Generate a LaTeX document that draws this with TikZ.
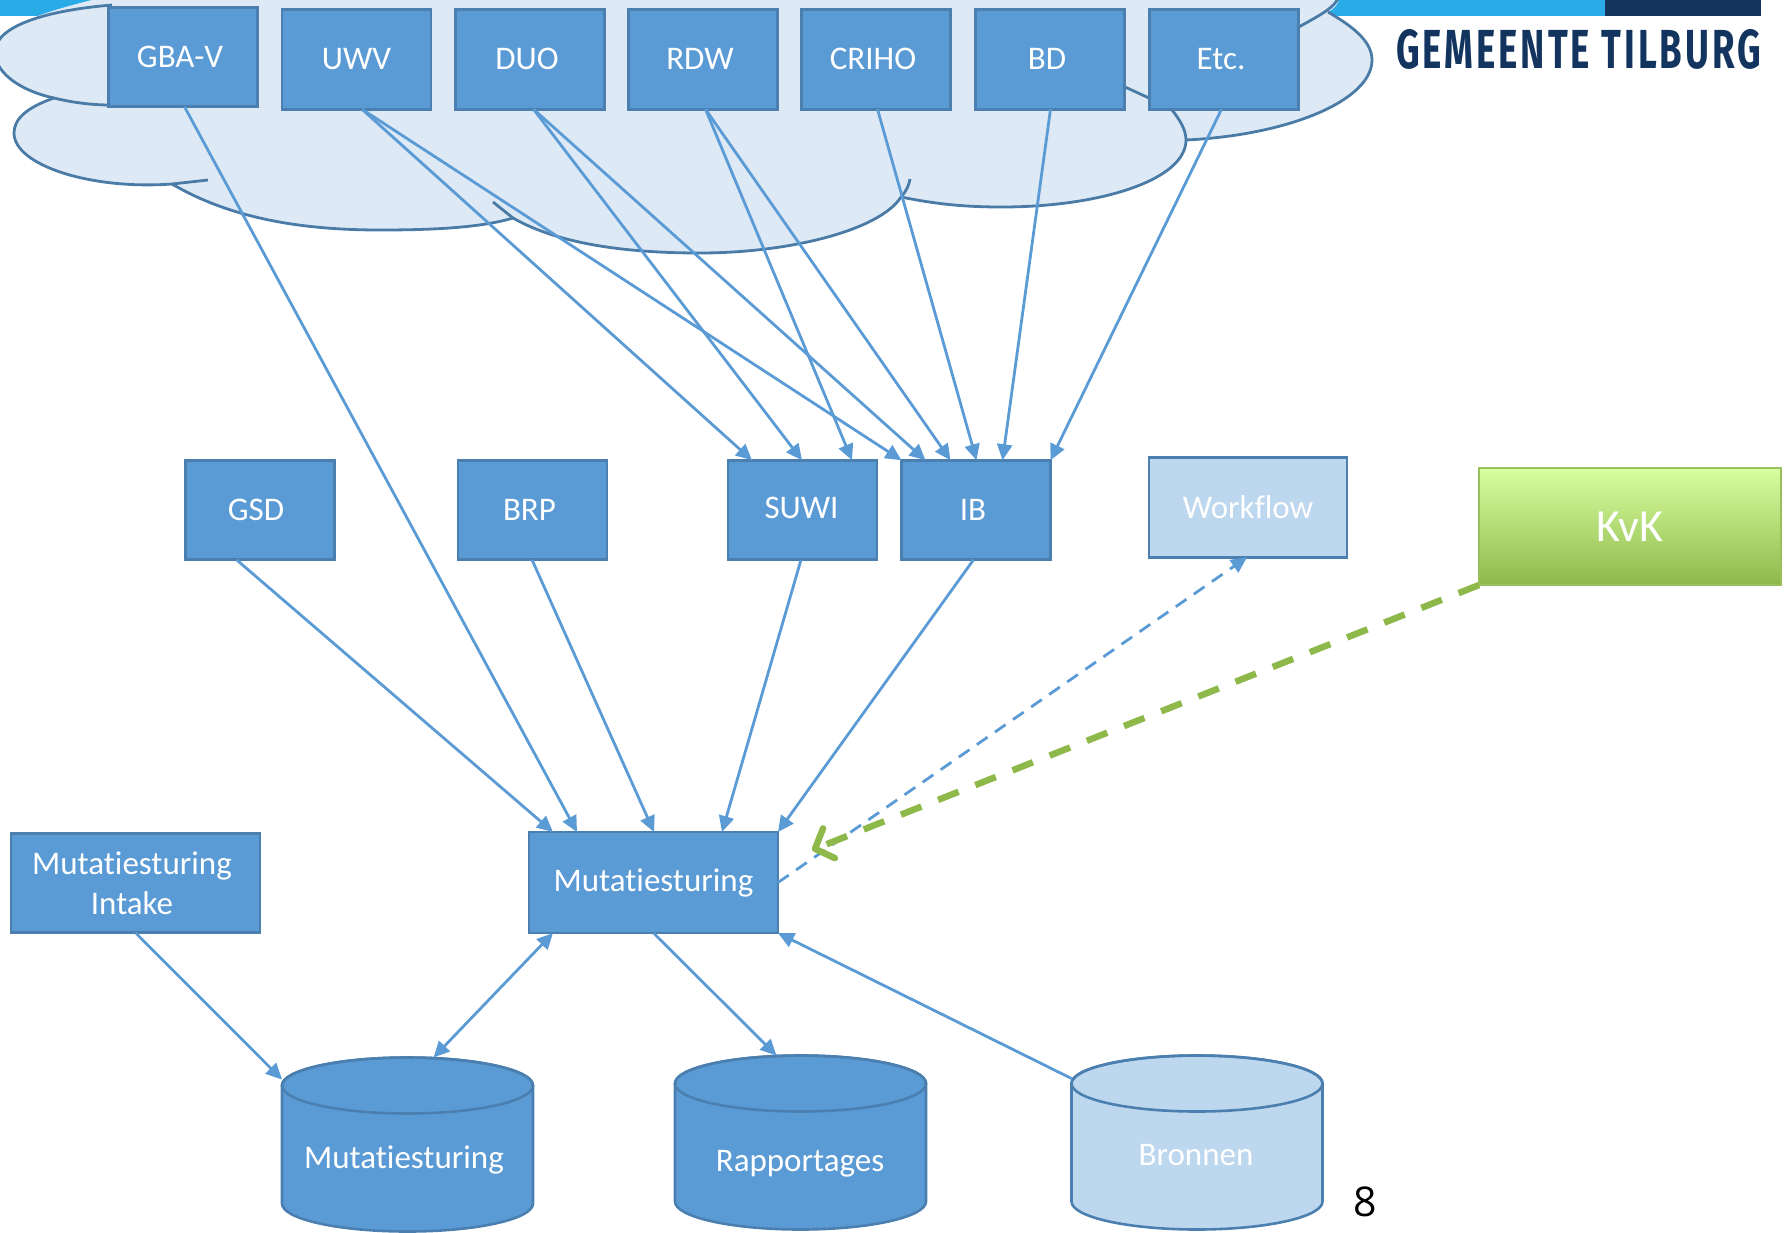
\documentclass[tikz,border=0pt]{standalone}
\usepackage{fontspec}
\setmainfont[Ligatures=NoCommon]{Carlito}
\newfontfamily\headfont[LetterSpace=8]{Fira Sans}
\newfontfamily\numfont{Open Sans}
\usetikzlibrary{arrows.meta,calc}
\definecolor{boxfill}{HTML}{5B9BD5}
\definecolor{boxline}{HTML}{4A7FB0}
\definecolor{paleFill}{HTML}{BDD7EE}
\definecolor{cloudfill}{HTML}{DEE9F6}
\definecolor{cloudline}{HTML}{4A7BA6}
\definecolor{cyanbar}{HTML}{29ABE8}
\definecolor{navybar}{HTML}{12345E}
\definecolor{greenline}{HTML}{8FB84B}
\definecolor{kvktop}{HTML}{D8FFA0}
\tikzset{
  x=1pt,y=-1pt,
  txt/.style={text=white,font=\fontsize{33}{40}\selectfont,align=center},
  boxn/.style={draw=boxline,fill=boxfill,line width=2.6pt,inner sep=0pt,outer sep=0pt,
    minimum width=149pt,minimum height=99.5pt,txt},
  palebox/.style={boxn,fill=paleFill},
  cylbase/.style={minimum width=251pt,minimum height=174pt,inner sep=0pt,outer sep=0pt},
  cylline/.style={draw=boxline,line width=2.6pt},
  conn/.style={draw=boxfill,line width=2.8pt,-{Triangle[length=16pt,width=15pt]}},
  both/.style={conn,{Triangle[length=16pt,width=15pt]}-{Triangle[length=16pt,width=15pt]}},
  dashconn/.style={conn,dash pattern=on 13pt off 9pt},
  greenconn/.style={draw=greenline,line width=6.5pt,dash pattern=on 22pt off 18pt,
    -{Straight Barb[round,length=15pt,width=32pt,line width=6.5pt]}},
  cloudarc/.style={draw=cloudline,line width=2.8pt},
}
\newcommand{\cylshape}[2]{%
  \path[cylline,fill=#2] ([yshift=-28pt]#1.north west) -- ([yshift=28pt]#1.south west)
    arc[start angle=180,end angle=360,x radius=125.5pt,y radius=28pt]
    -- ([yshift=-28pt]#1.north east)
    arc[start angle=0,end angle=180,x radius=125.5pt,y radius=28pt] -- cycle;
  \path[cylline] ([yshift=-28pt]#1.north) ellipse[x radius=125.5pt,y radius=28pt];
}
\begin{document}
\begin{tikzpicture}
\useasboundingbox (0,0) rectangle (1789,1232);
\clip (0,0) rectangle (1789,1232);
% header bars
\fill[cyanbar] (0,0) rectangle (130,16);
\fill[cyanbar] (1320,0) rectangle (1605,16);
\fill[navybar] (1605,0) rectangle (1761,16);
\node[text=navybar,inner sep=0pt,xscale=0.666,anchor=east] (brand) at (1761,49)
  {\headfont\bfseries\fontsize{55}{60}\selectfont GEMEENTE TILBURG};
% cloud body
\fill[cloudfill] (112,-5) .. controls (50,10) and (-5,25) .. (-5,52)
  .. controls (-5,75) and (25,92) .. (54,98)
  .. controls (25,108) and (14,120) .. (14,133)
  .. controls (14,165) and (90,190) .. (172,184)
  .. controls (230,218) and (300,230) .. (380,230)
  .. controls (430,230) and (480,228) .. (513,218)
  .. controls (560,245) and (630,253) .. (700,253)
  .. controls (790,253) and (880,230) .. (901,197)
  .. controls (940,205) and (970,207) .. (1002,207)
  .. controls (1100,207) and (1186,180) .. (1186,140)
  .. controls (1290,135) and (1372,100) .. (1372,60)
  .. controls (1372,40) and (1350,25) .. (1328,12)
  .. controls (1335,8) and (1339,4) .. (1340,-5) -- cycle;
% cloud outline pieces
\draw[cloudarc] (112,5) .. controls (50,10) and (-5,25) .. (-5,52)
  .. controls (-5,75) and (25,92) .. (54,98) .. controls (70,102) and (90,105) .. (110,105);
\draw[cloudarc] (54,98) .. controls (25,108) and (14,120) .. (14,133)
  .. controls (14,165) and (90,190) .. (172,184) -- (208,180);
\draw[cloudarc] (172,184) .. controls (230,218) and (300,230) .. (380,230)
  .. controls (430,230) and (480,228) .. (513,218);
\draw[cloudarc] (493,202) -- (513,218) .. controls (560,245) and (630,253) .. (700,253)
  .. controls (790,253) and (880,230) .. (901,197) .. controls (907,190) and (909,185) .. (910,179);
\draw[cloudarc] (901,197) .. controls (940,205) and (970,207) .. (1002,207)
  .. controls (1100,207) and (1186,180) .. (1186,140) .. controls (1186,130) and (1180,120) .. (1172,110);
\draw[cloudarc] (1125,87) -- (1149,98);
\draw[cloudarc] (1186,140) .. controls (1290,135) and (1372,100) .. (1372,60)
  .. controls (1372,40) and (1350,25) .. (1328,12);
\draw[cloudarc] (1297,28) .. controls (1320,15) and (1335,8) .. (1340,-5);
% top row
\node[boxn] (gba) at (183,57) {\raisebox{-4pt}{GBA-V}\hspace*{6pt}};
\node[boxn] (uwv) at (356.5,59.5) {UWV};
\node[boxn] (duo) at (530,59.5) {\raisebox{1pt}{DUO}\hspace*{6pt}};
\node[boxn] (rdw) at (703,59.5) {\raisebox{1pt}{RDW}\hspace*{6pt}};
\node[boxn] (criho) at (876,59.5) {\raisebox{1pt}{CRIHO}\hspace*{6pt}};
\node[boxn] (bd) at (1050,59.5) {\raisebox{1pt}{BD}\hspace*{6pt}};
\node[boxn] (etc) at (1224,59.5) {\raisebox{1pt}{Etc.}\hspace*{6pt}};
% middle row
\node[boxn] (gsd) at (260,510) {GSD\hspace*{8pt}};
\node[boxn] (brp) at (532.5,510) {BRP\hspace*{6pt}};
\node[boxn] (suwi) at (802.5,510) {\raisebox{4pt}{SUWI}\hspace*{2pt}};
\node[boxn] (ib) at (976,510) {IB\hspace*{6pt}};
\node[palebox,minimum width=198pt] (workflow) at (1248,507.5) {Workflow};
\node[draw=greenline!90!white,line width=2pt,top color=kvktop,bottom color=greenline,
  minimum width=302pt,minimum height=117pt,inner sep=0pt,outer sep=0pt,text=white,
  font=\fontsize{46}{54}\selectfont] (kvk) at (1630,526.5) {\raisebox{-2pt}{KvK}};
% mutatie boxes
\node[boxn,minimum width=249pt] (intake) at (135.5,883) {Mutatiesturing\hspace*{7pt}\\Intake\hspace*{7pt}};
\node[boxn,minimum width=249pt,minimum height=101pt] (mut) at (653.5,882.5) {Mutatiesturing};
% cylinders
\node[cylbase] (cmut) at (407.5,1144.5) {};
\node[cylbase] (crap) at (800.5,1142.5) {};
\node[cylbase] (cbron) at (1197,1142.5) {};
\cylshape{cmut}{boxfill}
\cylshape{crap}{boxfill}
\cylshape{cbron}{paleFill}
\node[txt] (tmut) at (404,1160) {Mutatiesturing};
\node[txt] (trap) at (800,1164) {Rapportages};
\node[txt] (tbron) at (1196,1155) {Bronnen};
\node[font=\numfont\fontsize{41}{46}\selectfont,text=black,inner sep=0pt] (pageno) at (1365,1202) {8};
% connectors top
\draw[conn] ([xshift=76]gba.south west) -- ([xshift=48]mut.north west);
\draw[conn] ([xshift=80]uwv.south west) -- ([xshift=24]suwi.north west);
\draw[conn] ([xshift=80]uwv.south west) -- ([xshift=0]ib.north west);
\draw[conn] ([xshift=78]duo.south west) -- ([xshift=74]suwi.north west);
\draw[conn] ([xshift=78]duo.south west) -- ([xshift=24]ib.north west);
\draw[conn] ([xshift=77]rdw.south west) -- ([xshift=124]suwi.north west);
\draw[conn] ([xshift=77]rdw.south west) -- ([xshift=49]ib.north west);
\draw[conn] ([xshift=76]criho.south west) -- ([xshift=75]ib.north west);
\draw[conn] ([xshift=75]bd.south west) -- ([xshift=101]ib.north west);
\draw[conn] ([xshift=72]etc.south west) -- (ib.north east);
% connectors middle
\draw[conn] ([xshift=51]gsd.south west) -- ([xshift=24]mut.north west);
\draw[conn] ([xshift=74]brp.south west) -- ([xshift=125]mut.north west);
\draw[conn] ([xshift=73]suwi.south west) -- ([xshift=193]mut.north west);
\draw[conn] ([xshift=72]ib.south west) -- (mut.north east);
\draw[dashconn] (mut.east) -- ([xshift=98]workflow.south west);
\coordinate (greenend) at (812,850);
\draw[greenconn] (kvk.south west) -- (greenend);
% connectors bottom
\draw[conn] (intake.south) -- ([yshift=65]cmut.west);
\draw[both] ([xshift=24]mut.south west) -- ([xshift=26]cmut.north);
\draw[conn] (mut.south) -- ([xshift=-24]crap.north);
\draw[conn] ([yshift=64]cbron.west) -- (mut.south east);
\end{tikzpicture}
\end{document}
